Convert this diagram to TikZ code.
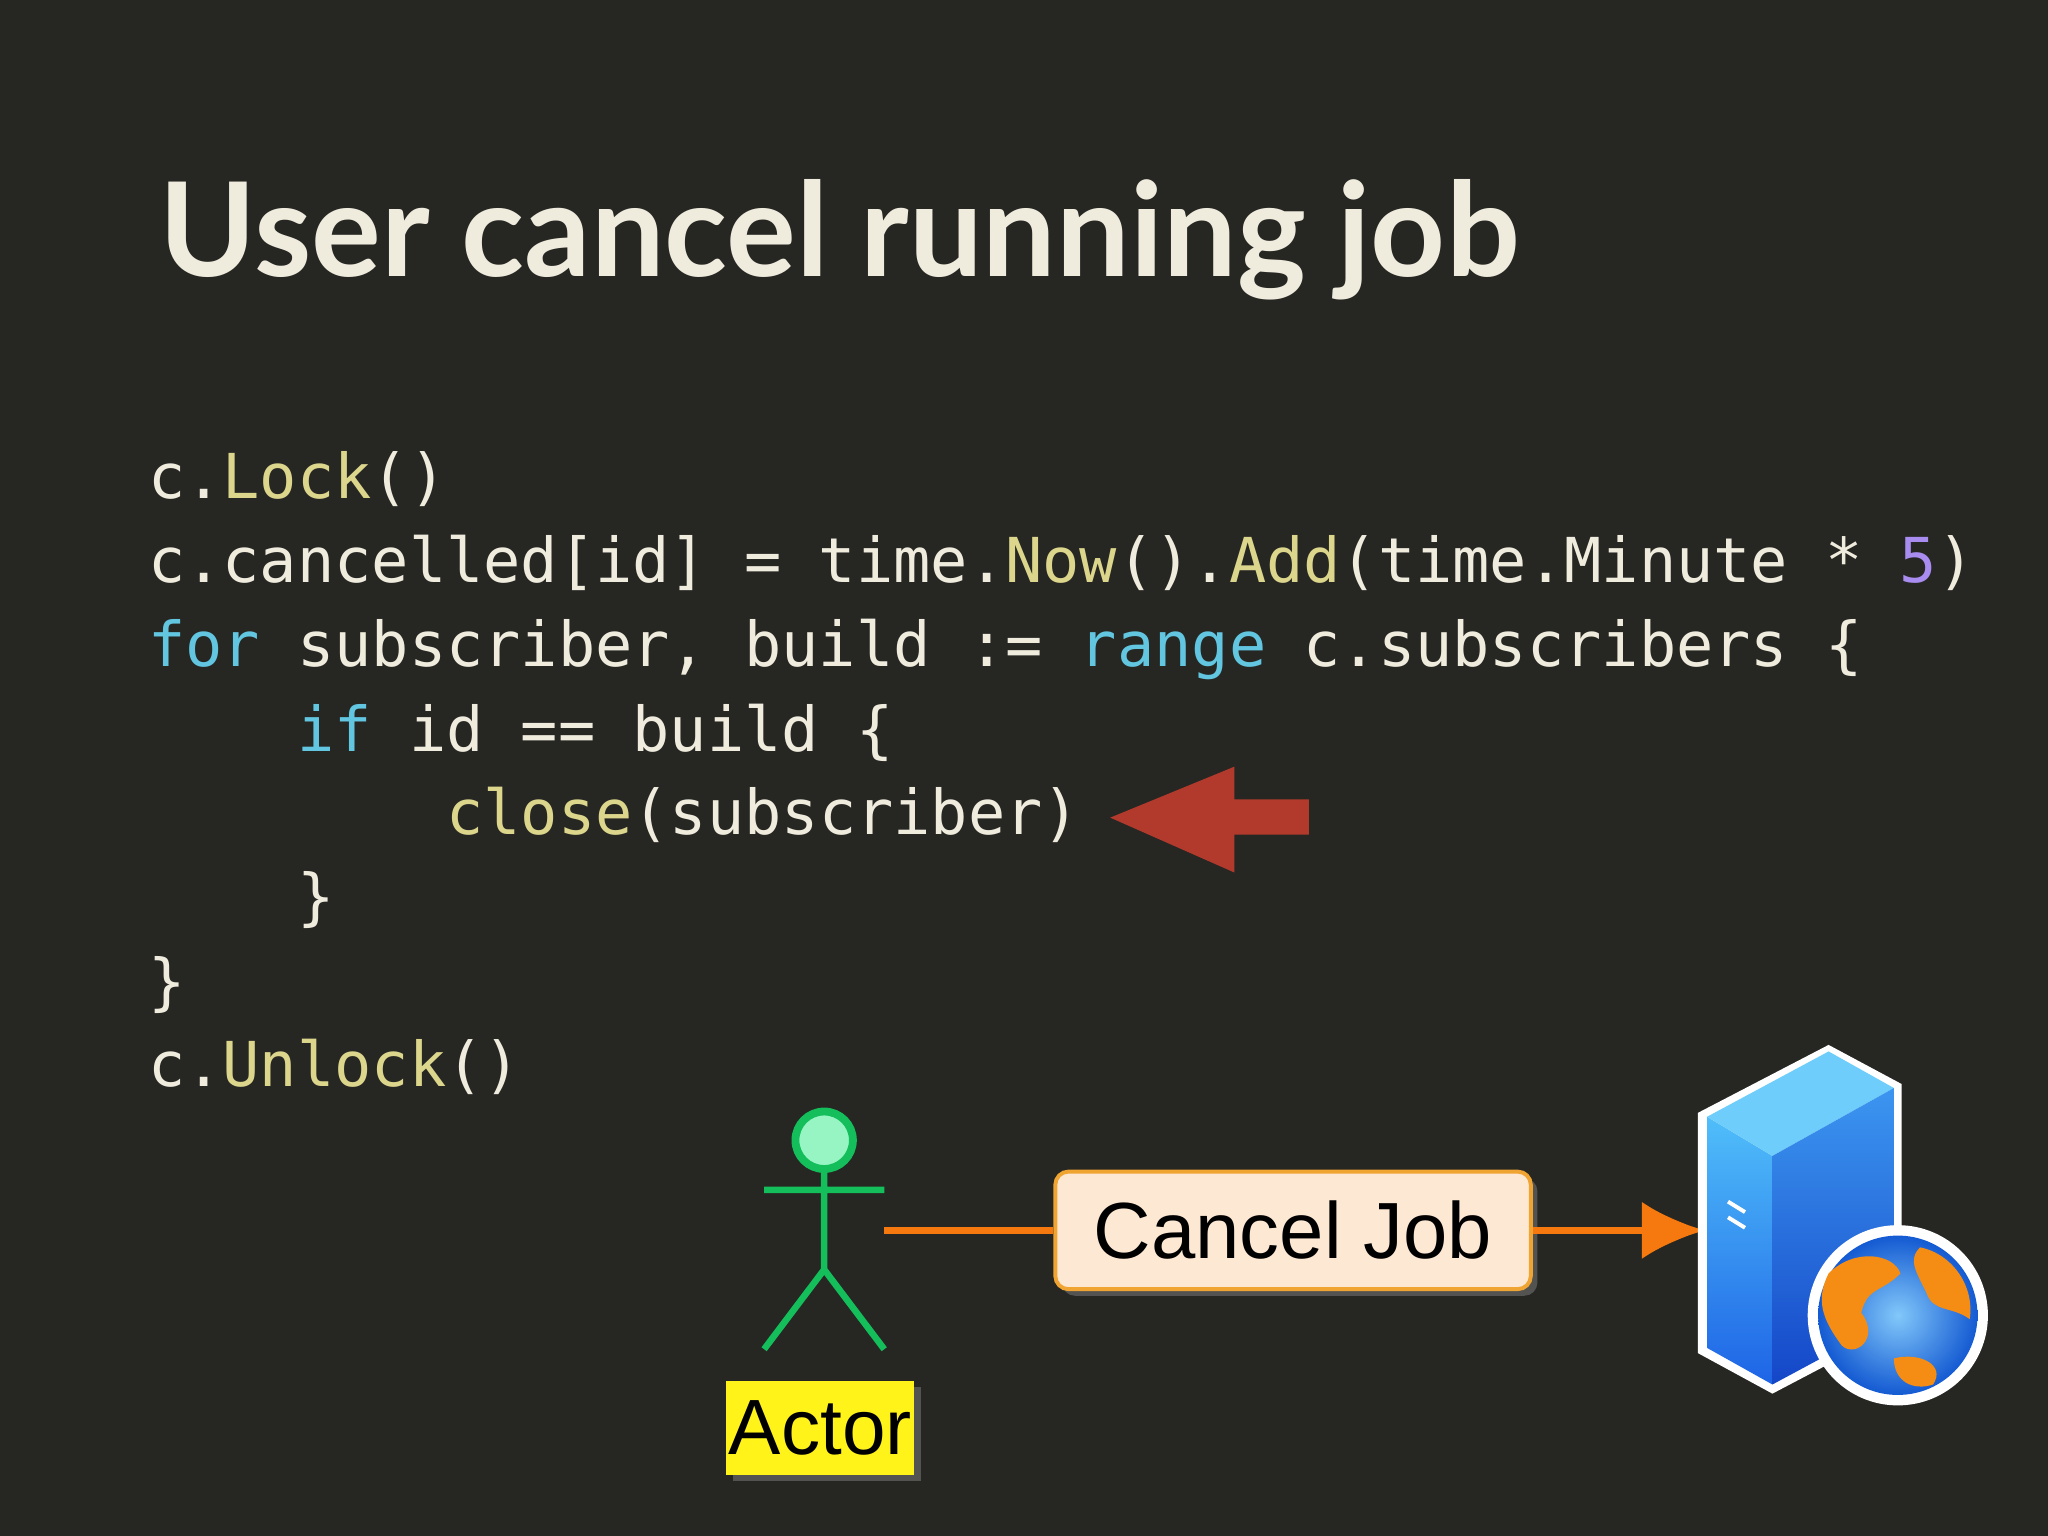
\documentclass[tikz,border=0pt]{standalone}
\usepackage{fontspec}
\setmainfont{Lato}
\setmonofont{DejaVu Sans Mono}
\usetikzlibrary{arrows.meta,shadows}
\definecolor{bg}{HTML}{262623}
\definecolor{cw}{HTML}{EFEBDD}
\definecolor{cy}{HTML}{DCD68C}
\definecolor{cc}{HTML}{62C6E0}
\definecolor{cp}{HTML}{A98CEF}
\definecolor{ared}{HTML}{B23A2C}
\definecolor{org}{HTML}{F5790F}
\definecolor{agreen}{RGB}{20,190,90}
\definecolor{ahead}{RGB}{150,245,195}
\definecolor{boxb}{RGB}{240,165,50}
\definecolor{boxf}{RGB}{253,232,212}
\definecolor{s1}{RGB}{80,190,250}
\definecolor{s2}{RGB}{30,100,230}
\definecolor{s3}{RGB}{110,205,250}
\definecolor{s4}{RGB}{60,150,240}
\definecolor{s5}{RGB}{20,70,200}
\definecolor{g1}{RGB}{130,200,250}
\definecolor{g2}{RGB}{20,90,210}
\definecolor{go}{RGB}{245,140,20}
\tikzset{code/.style={anchor=base west,inner sep=0,text=cw,font=\fontsize{23.7}{26}\ttfamily}}
\begin{document}
\begin{tikzpicture}[x=0.5pt,y=-0.5pt]
\fill[bg] (0,0) rectangle (1568,1176);
\node[anchor=base west,inner sep=0,text=cw,font=\fontsize{50}{56}\selectfont\bfseries] (title) at (122,212) {User cancel running job};
\node[code] (l1) at (113,382) {c.\textcolor{cy}{Lock}()};
\node[code] (l2) at (113,446) {c.cancelled[id] = time.\textcolor{cy}{Now}().\textcolor{cy}{Add}(time.Minute * \textcolor{cp}{5})};
\node[code] (l3) at (113,510) {\textcolor{cc}{for} subscriber, build := \textcolor{cc}{range} c.subscribers \{};
\node[code] (l4) at (113,575) {\phantom{xxxx}\textcolor{cc}{if} id == build \{};
\node[code] (l5) at (113,639) {\phantom{xxxxxxxx}\textcolor{cy}{close}(subscriber)};
\node[code] (l6) at (113,703) {\phantom{xxxx}\}};
\node[code] (l7) at (113,768) {\}};
\node[code] (l8) at (113,832) {c.\textcolor{cy}{Unlock}()};
% red arrow
\fill[ared] (850,626) -- (945,587) -- (945,612) -- (1002,612) -- (1002,639) -- (945,639) -- (945,668) -- cycle;
% actor
\coordinate (act) at (677,942);
\draw[agreen,line width=2.5pt]
  (631,895) -- (631,972) (585,911) -- (677,911) (585,1033) -- (631,972) -- (677,1033);
\draw[line width=3pt,agreen,fill=ahead] (631,873) circle (22);
\node[fill=yellow!90!white,text=black,inner sep=1pt,minimum width=72pt,minimum height=36pt,drop shadow] (actor) at (628,1093) {\fontspec{Liberation Sans}\fontsize{30}{32}\selectfont Actor};
\node[draw=boxb,line width=1.5pt,fill=boxf,rounded corners=5pt,minimum width=182pt,minimum height=45pt,text=black,drop shadow] (cj) at (990,942) {\fontspec{Liberation Sans}\fontsize{30.5}{32}\selectfont Cancel Job};
\coordinate (srv) at (1305,942);
\draw[org,line width=2.5pt] (act) -- (cj.west);
\draw[org,line width=2.5pt,-{Latex[length=24pt,width=22pt]}] (cj.east) -- (srv);
% server
\fill[white] (1300,852) -- (1400,800) -- (1456,830) -- (1456,1015) -- (1357,1067) -- (1300,1036) -- cycle;
\shade[top color=s1,bottom color=s2] (1307,855) -- (1357,885) -- (1357,1060) -- (1307,1032) -- cycle;
\fill[s3] (1307,855) -- (1400,805) -- (1450,833) -- (1357,885) -- cycle;
\shade[top color=s4,bottom color=s5] (1357,885) -- (1450,833) -- (1450,1010) -- (1357,1060) -- cycle;
\draw[white,line width=1.5pt] (1323,920) -- (1336,928) (1323,932) -- (1336,940);
\fill[white] (1453,1007) circle (69);
\shade[inner color=g1,outer color=g2] (1453,1007) circle (61);
\fill[go] (1400,975) .. controls (1420,955) and (1450,960) .. (1455,975) .. controls (1440,990) and (1430,985) .. (1425,1005) .. controls (1440,1025) and (1420,1040) .. (1410,1030) .. controls (1395,1010) and (1390,995) .. cycle;
\fill[go] (1470,955) .. controls (1495,960) and (1512,985) .. (1508,1010) .. controls (1495,1000) and (1480,1005) .. (1475,990) .. controls (1468,975) and (1460,965) .. cycle;
\fill[go] (1450,1040) .. controls (1470,1035) and (1490,1045) .. (1480,1060) .. controls (1465,1065) and (1450,1058) .. cycle;
\end{tikzpicture}
\end{document}
